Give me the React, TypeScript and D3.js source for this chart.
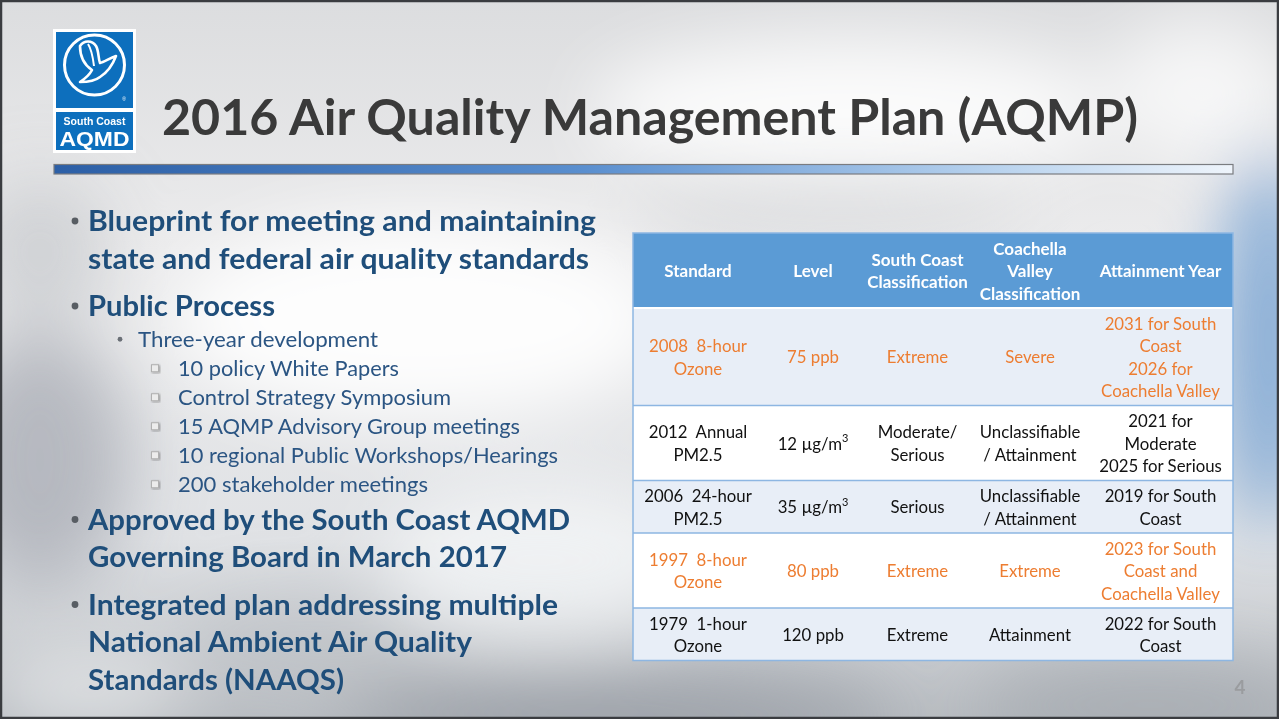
import React from "react";
import * as d3 from "d3";

const W = 1279;
const H = 719;

// ---- slide text ----
const title = "2016 Air Quality Management Plan (AQMP)";

const bulletLevels = [0, 0, 0, 1, 2, 2, 2, 2, 2, 0, 0, 0, 0, 0];
const bulletFirst = [true, false, true, true, true, true, true, true, true, true, false, true, false, false];
const bulletLines = [
  "Blueprint for meeting and maintaining",
  "state and federal air quality standards",
  "Public Process",
  "Three-year development",
  "10 policy White Papers",
  "Control Strategy Symposium",
  "15 AQMP Advisory Group meetings",
  "10 regional Public Workshops/Hearings",
  "200 stakeholder meetings",
  "Approved by the South Coast AQMD",
  "Governing Board in March 2017",
  "Integrated plan addressing multiple",
  "National Ambient Air Quality",
  "Standards (NAAQS)",
];
// measured rendered widths of each line (layout only)
const bulletWidths = [508, 501, 187, 240, 221, 273, 342, 380, 250, 482, 419, 470, 384, 256];

// ---- table ----
const headers = [["Standard"], ["Level"], ["South Coast", "Classification"], ["Coachella", "Valley", "Classification"], ["Attainment Year"]];
const standards = [["2008  8-hour", "Ozone"], ["2012  Annual", "PM2.5"], ["2006  24-hour", "PM2.5"], ["1997  8-hour", "Ozone"], ["1979  1-hour", "Ozone"]];
const levels = [["75 ppb"], ["12 µg/m^3"], ["35 µg/m^3"], ["80 ppb"], ["120 ppb"]];
const southCoast = [["Extreme"], ["Moderate/", "Serious"], ["Serious"], ["Extreme"], ["Extreme"]];
const coachella = [["Severe"], ["Unclassifiable", "/ Attainment"], ["Unclassifiable", "/ Attainment"], ["Extreme"], ["Attainment"]];
const attainment = [
  ["2031 for South", "Coast", "2026 for", "Coachella Valley"],
  ["2021 for", "Moderate", "2025 for Serious"],
  ["2019 for South", "Coast"],
  ["2023 for South", "Coast and", "Coachella Valley"],
  ["2022 for South", "Coast"],
];
const highlighted = [true, false, false, true, false];

const colWidths = [130, 100, 109, 116, 145];
const TX = 633;
const TY = 233;
const LH = 22.5;

const FONT = "Lato, 'Open Sans', sans-serif";
const BLUE_TXT = "#1f4e7a";
const ORANGE = "#ed7d31";

function cellText(s: string) {
  const parts = s.split("^");
  if (parts.length === 1) return s;
  return (
    <>
      {parts[0]}
      <tspan fontSize="11" dy="-6">{parts[1]}</tspan>
    </>
  );
}

export default function App() {
  const rows = standards.map((_, i) => [standards[i], levels[i], southCoast[i], coachella[i], attainment[i]]);
  const lineCount = (cells: string[][]) => d3.max(cells, (c) => c.length) as number;
  const rowH = (n: number) => n * LH + 7.5;
  const heights = [rowH(lineCount(headers)), ...rows.map((r) => rowH(lineCount(r)))];
  const rowTops = [TY, ...d3.cumsum(heights).map((h) => TY + h)];
  const tableH = d3.sum(heights);
  const colEdges = [TX, ...d3.cumsum(colWidths).map((w) => TX + w)];
  const colX = d3.scaleOrdinal<number, number>().domain(d3.range(5)).range(colWidths.map((w, i) => colEdges[i] + w / 2));
  const tableW = d3.sum(colWidths);

  // bullet vertical layout
  const ys: number[] = [];
  bulletLines.forEach((_, i) => {
    if (i === 0) { ys.push(220); return; }
    const lv = bulletLevels[i];
    const prev = bulletLevels[i - 1];
    const lh = (l: number) => (l === 0 ? 37.5 : 29);
    let step = (lh(lv) + lh(prev)) / 2;
    if (lv === 0 && bulletFirst[i]) step += prev === 0 ? 10 : 2;
    ys.push(ys[i - 1] + step);
  });

  return (
    <svg width={W} height={H} style={{ position: "fixed", left: 0, top: 0, display: "block" }} fontFamily={FONT}>
      <defs>
        <linearGradient id="bg" x1="0" y1="0" x2="0" y2="1">
          <stop offset="0" stopColor="#dcdddf" />
          <stop offset="0.35" stopColor="#ececed" />
          <stop offset="0.75" stopColor="#e0e2e5" />
          <stop offset="1" stopColor="#b9bdc2" />
        </linearGradient>
        <filter id="blur" x="-50%" y="-50%" width="200%" height="200%">
          <feGaussianBlur stdDeviation="35" />
        </filter>
        <linearGradient id="bar" x1="0" y1="0" x2="1" y2="0">
          <stop offset="0" stopColor="#2c5fa6" />
          <stop offset="0.45" stopColor="#5a8fcf" />
          <stop offset="0.8" stopColor="#b9d3ee" />
          <stop offset="1" stopColor="#eef4fb" />
        </linearGradient>
        <filter id="shadow" x="-30%" y="-30%" width="160%" height="160%">
          <feDropShadow dx="1" dy="1" stdDeviation="0.8" floodColor="#000" floodOpacity="0.35" />
        </filter>
      </defs>

      {/* cloudy background */}
      <rect width={W} height={H} fill="url(#bg)" />
      <g filter="url(#blur)">
        <ellipse cx={40} cy={460} rx={90} ry={130} fill="#9ca2aa" opacity={0.65} />
        <ellipse cx={40} cy={250} rx={70} ry={70} fill="#b4b8bd" opacity={0.5} />
        <ellipse cx={420} cy={320} rx={250} ry={100} fill="#ffffff" opacity={0.9} />
        <ellipse cx={540} cy={560} rx={160} ry={80} fill="#f6f7f8" opacity={0.75} />
        <ellipse cx={850} cy={110} rx={260} ry={70} fill="#ffffff" opacity={0.85} />
        <ellipse cx={830} cy={205} rx={200} ry={22} fill="#b9bdc3" opacity={0.55} />
        <ellipse cx={1268} cy={340} rx={45} ry={190} fill="#7aa4d3" opacity={0.95} />
        <ellipse cx={1200} cy={90} rx={90} ry={70} fill="#ffffff" opacity={0.7} />
        <ellipse cx={620} cy={715} rx={280} ry={40} fill="#8d939b" opacity={0.7} />
        <ellipse cx={1150} cy={705} rx={180} ry={45} fill="#9ba0a7" opacity={0.6} />
        <ellipse cx={300} cy={640} rx={120} ry={40} fill="#b8bcc1" opacity={0.5} />
        <ellipse cx={90} cy={690} rx={100} ry={40} fill="#eceeef" opacity={0.7} />
      </g>
      <rect x={1} y={1} width={W - 2} height={H - 2} fill="none" stroke="#3a3c40" strokeWidth={2.5} />

      {/* logo */}
      <g>
        <rect x={53} y={29} width={83} height={124} fill="#fff" />
        <rect x={56} y={32} width={77} height={76} fill="#0d6fbd" />
        <rect x={56} y={112} width={77} height={38} fill="#0d6fbd" />
        <circle cx={94.5} cy={65} r={30} fill="none" stroke="#fff" strokeWidth={3} />
        <path
          d="M80,46 C84,40 92,40 96,46 C99,51 98,58 100,63 C104,62 110,58 116,56 C113,64 108,72 100,77 C95,81 88,82 80,82 C86,78 90,74 92,70 C86,66 80,58 80,46 Z"
          fill="none" stroke="#fff" strokeWidth={2.6} strokeLinejoin="round"
        />
        <path d="M88,44 C92,50 93,58 94,66" fill="none" stroke="#fff" strokeWidth={2} />
        <text x={124} y={101} textAnchor="middle" fill="#fff" fontFamily="'Liberation Sans', Arial, sans-serif" fontSize={5}>®</text>
        <text x={94.5} y={125} textAnchor="middle" fill="#fff" fontFamily="'Liberation Sans', Arial, sans-serif" fontWeight={700} fontSize={10.5}>South Coast</text>
        <text x={94.5} y={146} textAnchor="middle" fill="#fff" fontFamily="'Liberation Sans', Arial, sans-serif" fontWeight={700} fontSize={20} textLength={70} lengthAdjust="spacingAndGlyphs">AQMD</text>
      </g>

      {/* title */}
      <text x={162} y={135} fill="#3a3a3a" fontWeight={700} fontSize={50} textLength={976} lengthAdjust="spacingAndGlyphs">{title}</text>
      <rect x={54} y={164.5} width={1179} height={9.5} fill="url(#bar)" stroke="#7a7c80" strokeWidth={1.2} />

      {/* bullets */}
      <g>
        {bulletLines.map((t, i) => {
          const lv = bulletLevels[i];
          const x = lv === 0 ? 88 : lv === 1 ? 138 : 178;
          const fs = lv === 0 ? 28 : 22;
          return (
            <g key={i}>
              {bulletFirst[i] && lv === 0 && (
                <circle cx={75} cy={ys[i] + 1} r={3.4} fill="#585d63" />
              )}
              {lv === 1 && <circle cx={120} cy={ys[i] + 1} r={2.4} fill="#6a6f76" />}
              {lv === 2 && (
                <rect x={151.5} y={ys[i] - 2.5} width={7} height={7} fill="#ececec" stroke="#b0b0b0" strokeWidth={1} filter="url(#shadow)" />
              )}
              <text
                x={x}
                y={ys[i]}
                dominantBaseline="central"
                fill={lv === 0 ? BLUE_TXT : "#2b5583"}
                fontWeight={lv === 0 ? 700 : 400}
                fontSize={fs}
                textLength={bulletWidths[i]}
                lengthAdjust="spacingAndGlyphs"
              >
                {t}
              </text>
            </g>
          );
        })}
      </g>

      {/* table */}
      <g>
        <rect x={TX} y={TY} width={tableW} height={tableH} fill="#fff" />
        <rect x={TX} y={rowTops[0]} width={tableW} height={heights[0]} fill="#5b9bd5" />
        {rows.map((_, r) => (
          <rect key={r} x={TX} y={rowTops[r + 1]} width={tableW} height={heights[r + 1]} fill={r % 2 === 0 ? "#e8eef7" : "#ffffff"} />
        ))}
        {rowTops.slice(1, -1).map((y, i) => (
          <line key={i} x1={TX} x2={TX + tableW} y1={y} y2={y} stroke={i === 0 ? "#ffffff" : "#8db6e2"} strokeWidth={i === 0 ? 2 : 1.5} />
        ))}
        <rect x={TX} y={TY} width={tableW} height={tableH} fill="none" stroke="#8db6e2" strokeWidth={1.5} />

        {headers.map((lines, c) =>
          lines.map((t, k) => (
            <text key={`h${c}${k}`} x={colX(c)} y={rowTops[0] + heights[0] / 2 + (k - (lines.length - 1) / 2) * LH}
              textAnchor="middle" dominantBaseline="central" fill="#fff" fontWeight={700} fontSize={17}>
              {t}
            </text>
          ))
        )}
        {rows.map((cells, r) =>
          cells.map((lines, c) =>
            lines.map((t, k) => (
              <text key={`c${r}${c}${k}`} xmlSpace="preserve" style={{ whiteSpace: "pre" }}
                x={colX(c)} y={rowTops[r + 1] + heights[r + 1] / 2 + (k - (lines.length - 1) / 2) * LH}
                textAnchor="middle" dominantBaseline="central" fill={highlighted[r] ? ORANGE : "#111"} fontSize={16.8}>
                {cellText(t)}
              </text>
            ))
          )
        )}
      </g>

      <text x={1240} y={686} textAnchor="middle" dominantBaseline="central" fill="#9a9c9f" fontWeight={700} fontSize={19}>4</text>
    </svg>
  );
}
